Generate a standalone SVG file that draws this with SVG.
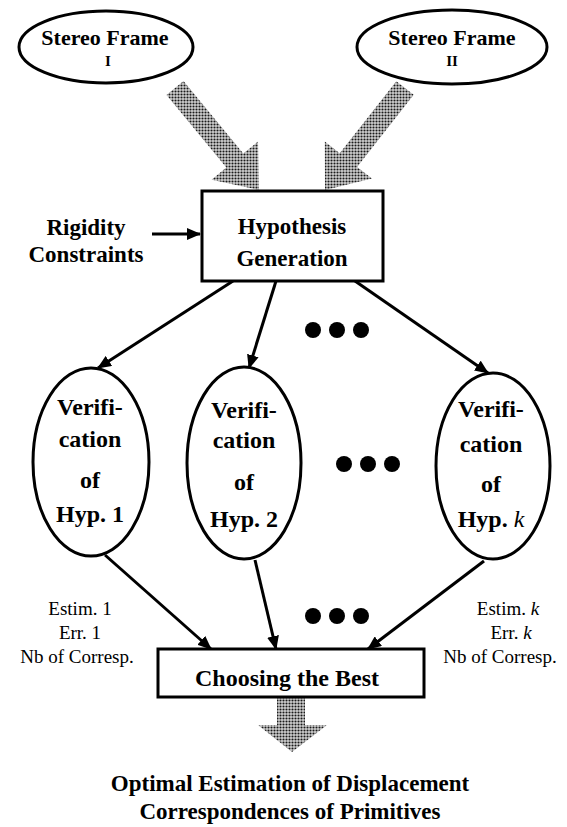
<svg xmlns="http://www.w3.org/2000/svg" width="567" height="827" viewBox="0 0 567 827">
<style>
.b{font-family:"Liberation Serif","Times New Roman",serif;font-weight:bold;fill:#000;text-anchor:middle}
.r{font-family:"Liberation Serif","Times New Roman",serif;fill:#000;text-anchor:middle}
.shape{fill:#fff;stroke:#000;stroke-width:3}
.edge{fill:none;stroke:#000;stroke-width:3}
.hatch{fill:url(#dots);stroke:none}
.dot{fill:#000}
</style>
<defs>
<pattern id="dots" width="3" height="3" patternUnits="userSpaceOnUse">
<rect width="3" height="3" fill="#d0d0d0"/>
<circle cx="1.5" cy="1.5" r="1.05" fill="#1a1a1a"/>
</pattern>
<marker id="ah" markerWidth="14" markerHeight="12" refX="13" refY="6" orient="auto" markerUnits="userSpaceOnUse">
<path d="M0,0 L14,6 L0,12 Z" fill="#000"/>
</marker>
</defs>

<g id="connectors">
<path class="hatch" d="M183.5,81 L243.3,153.6 L258,141.5 L259,190 L211.6,179.7 L226.3,167.6 L166.5,95 Z"/>
<path class="hatch" d="M413.7,94.8 L357.1,166.9 L372,178.6 L325,190 L324.8,141.6 L339.7,153.3 L396.3,81.2 Z"/>
<path class="hatch" d="M277,697 L305,697 L305,725 L327,725 L292,752 L258,725 L277,725 Z"/>
<line class="edge" x1="152" y1="234" x2="200" y2="234" marker-end="url(#ah)"/>
<line class="edge" x1="233" y1="281" x2="98" y2="368" marker-end="url(#ah)"/>
<line class="edge" x1="276" y1="281" x2="249" y2="368" marker-end="url(#ah)"/>
<line class="edge" x1="355" y1="281" x2="488" y2="373" marker-end="url(#ah)"/>
<line class="edge" x1="105" y1="555" x2="211" y2="649" marker-end="url(#ah)"/>
<line class="edge" x1="255" y1="560" x2="276" y2="649" marker-end="url(#ah)"/>
<line class="edge" x1="484" y1="561" x2="368" y2="649" marker-end="url(#ah)"/>
</g>

<g id="stereo1">
<ellipse class="shape" cx="106" cy="47" rx="87" ry="36"/>
<text class="b" x="105" y="45" font-size="22">Stereo Frame</text>
<text class="b" x="108" y="66" font-size="15">I</text>
</g>
<g id="stereo2">
<ellipse class="shape" cx="452" cy="47" rx="95" ry="37"/>
<text class="b" x="452" y="45" font-size="22">Stereo Frame</text>
<text class="b" x="452" y="66" font-size="15">II</text>
</g>

<g id="rigidity">
<text class="b" x="86" y="235" font-size="23">Rigidity</text>
<text class="b" x="86" y="262" font-size="23">Constraints</text>
</g>

<g id="hypgen">
<rect class="shape" x="202" y="191" width="181" height="90"/>
<text class="b" x="292" y="234" font-size="23">Hypothesis</text>
<text class="b" x="292" y="266" font-size="23">Generation</text>
</g>

<g id="dots1">
<circle class="dot" cx="313" cy="330" r="8"/>
<circle class="dot" cx="337" cy="330" r="8"/>
<circle class="dot" cx="361" cy="330" r="8"/>
</g>

<g id="ver1">
<ellipse class="shape" cx="91" cy="462" rx="58" ry="94"/>
<text class="b" x="90" y="415" font-size="24">Verifi-</text>
<text class="b" x="90" y="447" font-size="24">cation</text>
<text class="b" x="90" y="488" font-size="24">of</text>
<text class="b" x="90" y="522" font-size="24">Hyp. 1</text>
</g>
<g id="ver2">
<ellipse class="shape" cx="244" cy="463" rx="57" ry="96"/>
<text class="b" x="244" y="418" font-size="24">Verifi-</text>
<text class="b" x="244" y="448" font-size="24">cation</text>
<text class="b" x="244" y="490" font-size="24">of</text>
<text class="b" x="244" y="527" font-size="24">Hyp. 2</text>
</g>
<g id="dots2">
<circle class="dot" cx="344" cy="464" r="8"/>
<circle class="dot" cx="368" cy="464" r="8"/>
<circle class="dot" cx="392" cy="464" r="8"/>
</g>
<g id="verk">
<ellipse class="shape" cx="493" cy="466" rx="57" ry="93"/>
<text class="b" x="491" y="417" font-size="24">Verifi-</text>
<text class="b" x="491" y="452" font-size="24">cation</text>
<text class="b" x="491" y="492" font-size="24">of</text>
<text class="b" x="491" y="527" font-size="24">Hyp. <tspan font-style="italic" font-weight="normal">k</tspan></text>
</g>

<g id="dots3">
<circle class="dot" cx="313" cy="616" r="8"/>
<circle class="dot" cx="337" cy="616" r="8"/>
<circle class="dot" cx="361" cy="616" r="8"/>
</g>

<g id="out1">
<text class="r" x="80" y="615" font-size="19">Estim. 1</text>
<text class="r" x="80" y="639" font-size="19">Err. 1</text>
<text class="r" x="77" y="663" font-size="19">Nb of Corresp.</text>
</g>
<g id="outk">
<text class="r" x="508" y="615" font-size="19">Estim. <tspan font-style="italic">k</tspan></text>
<text class="r" x="511" y="639" font-size="19">Err. <tspan font-style="italic">k</tspan></text>
<text class="r" x="500" y="663" font-size="19">Nb of Corresp.</text>
</g>

<g id="choose">
<rect class="shape" x="158" y="649" width="266" height="48"/>
<text class="b" x="287" y="686" font-size="24">Choosing the Best</text>
</g>

<g id="result">
<text class="b" x="290" y="791" font-size="23">Optimal Estimation of Displacement</text>
<text class="b" x="290" y="819" font-size="23">Correspondences of Primitives</text>
</g>
</svg>
